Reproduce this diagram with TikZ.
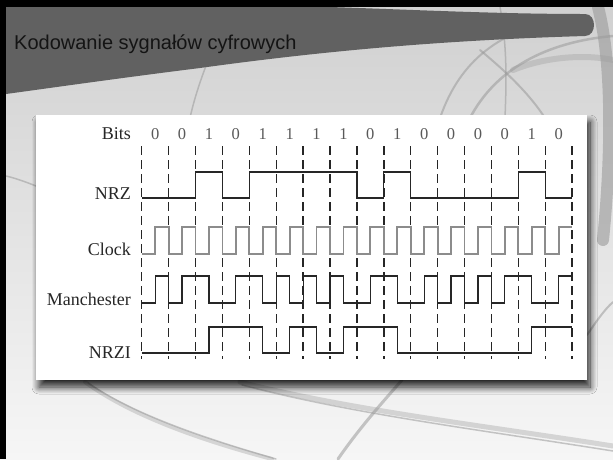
\documentclass[tikz,border=0pt]{standalone}
\usepackage{fontspec}
\newfontfamily\titlefont{Liberation Sans}
\newfontfamily\labelfont{Liberation Serif}
\usetikzlibrary{shadows.blur}
\definecolor{bandgray}{HTML}{616161}
\definecolor{slidetop}{HTML}{D0D0D0}
\definecolor{slidebottom}{HTML}{F6F6F6}
\definecolor{swoosh}{HTML}{9A9A9A}
\begin{document}
\begin{tikzpicture}[x=1pt,y=-1pt,
  declare function={bx(\i)=141.7+26.9*\i; bm(\i)=155.15+26.9*\i;
                    mfirst(\b)=303-27*\b; msecond(\b)=276+27*\b;},
  gridline/.style={black!85, line width=1.4pt, dash pattern=on 9pt off 5pt},
  wave/.style={black!85, line width=1.2pt, line join=miter},
  clockwave/.style={black!45, line width=1.8pt, line join=miter},
  lab/.style={anchor=base east, font=\labelfont\fontsize{18}{20}\selectfont, text=black!85, inner sep=0pt},
  bitlab/.style={anchor=base, font=\labelfont\fontsize{16.5}{18}\selectfont, text=black!65, inner sep=0pt},
  deco/.style={swoosh, opacity=0.55, line cap=round},
]
\useasboundingbox (0,0) rectangle (613,459);

% slide background
\shade[top color=slidetop, bottom color=slidebottom] (0,0) rectangle (613,459);

% decorative swooshes behind the content
\draw[deco, line width=1.5pt] (232,7) .. controls (215,40) and (197,85) .. (190,118);
\draw[deco, line width=2pt] (440,118) .. controls (460,60) and (500,30) .. (565,18);
\draw[deco, line width=2.5pt] (470,118) .. controls (495,70) and (545,42) .. (613,36);
\draw[deco, line width=1.5pt] (500,7) .. controls (508,50) and (506,90) .. (505,118);
\draw[deco, line width=6pt, opacity=0.35] (513,70) .. controls (550,55) and (590,55) .. (613,60);
\draw[deco, line width=2pt] (480,50) .. controls (510,75) and (530,95) .. (545,118);
\draw[deco, line width=12pt, opacity=0.6] (598,7) .. controls (612,60) and (612,150) .. (603,240);
\draw[deco, line width=2pt] (587,335) .. controls (596,322) and (604,310) .. (613,302);
\draw[deco, line width=1.5pt] (6,176) .. controls (15,178) and (26,182) .. (36,186);
\draw[deco, line width=4pt, opacity=0.35] (85,382) .. controls (130,415) and (200,440) .. (272,459);
\draw[deco, line width=1.5pt] (88,383) .. controls (133,414) and (203,438) .. (276,459);
\draw[deco, line width=5pt, opacity=0.35] (240,382) .. controls (350,410) and (480,425) .. (613,446);
\draw[deco, line width=1.5pt] (242,385) .. controls (352,414) and (482,430) .. (613,451);
\draw[deco, line width=3pt] (338,459) .. controls (358,430) and (380,405) .. (402,380);

% title band
\fill[bandgray] (6,7) -- (330,7) .. controls (420,10) and (500,14) .. (585,14)
  .. controls (597,14) and (597,36) .. (585,36)
  .. controls (450,40) and (330,50) .. (200,68)
  .. controls (120,78) and (50,88) .. (6,94) -- cycle;
\node[anchor=base west, font=\titlefont\fontsize{20}{24}\selectfont, text=black!92, inner sep=0pt]
  (title) at (14,49) {Kodowanie sygnałów cyfrowych};

% slide frame edges
\fill[black] (0,0) rectangle (613,7);
\fill[black] (0,0) rectangle (6,459);

% white figure panel with its shadow
\fill[white, blur shadow={shadow xshift=3pt, shadow yshift=-7pt, shadow opacity=85, shadow blur radius=7pt, shadow blur steps=12}]
  (36,115) rectangle (587,380);

% bit boundaries
\foreach \i in {0,...,16}
  \draw[gridline] ({bx(\i)},146) -- ({bx(\i)},359);

% row labels
\node[lab] (lbits)  at (131,139) {Bits};
\node[lab] (lnrz)   at (131,199) {NRZ};
\node[lab] (lclock) at (131,255) {Clock};
\node[lab] (lman)   at (131,305) {Manchester};
\node[lab] (lnrzi)  at (131,358) {NRZI};

% bit values
\foreach \b [count=\j from 0] in {0,0,1,0,1,1,1,1,0,1,0,0,0,0,1,0}
  \node[bitlab] (bit\j) at ({bm(\j)},139) {\b};

% NRZ: level follows the bit
\draw[wave] ({bx(0)},198) -| ({bx(2)},172) -| ({bx(3)},198) -| ({bx(4)},172)
  -| ({bx(8)},198) -| ({bx(9)},172) -| ({bx(10)},198) -| ({bx(14)},172)
  -| ({bx(15)},198) -- ({bx(16)},198);

% clock: low first half, high second half
\draw[clockwave] ({bx(0)},254) \foreach \j in {0,...,15}{
  -- ({bx(\j)},254) -- ({bm(\j)},254) -- ({bm(\j)},227) -- ({bx(\j+1)},227) };

% Manchester: transition in the middle of every bit
\draw[wave] ({bx(0)},303) \foreach \b [count=\j from 0] in {0,0,1,0,1,1,1,1,0,1,0,0,0,0,1,0}{
  -- ({bx(\j)},{mfirst(\b)}) -- ({bm(\j)},{mfirst(\b)})
  -- ({bm(\j)},{msecond(\b)}) -- ({bx(\j+1)},{msecond(\b)}) };

% NRZI: toggle in the middle of each 1
\draw[wave] ({bx(0)},353) -| ({bm(2)},327) -| ({bm(4)},353) -| ({bm(5)},327)
  -| ({bm(6)},353) -| ({bm(7)},327) -| ({bm(9)},353) -| ({bm(14)},327)
  -- ({bx(16)},327);
\end{tikzpicture}
\end{document}
